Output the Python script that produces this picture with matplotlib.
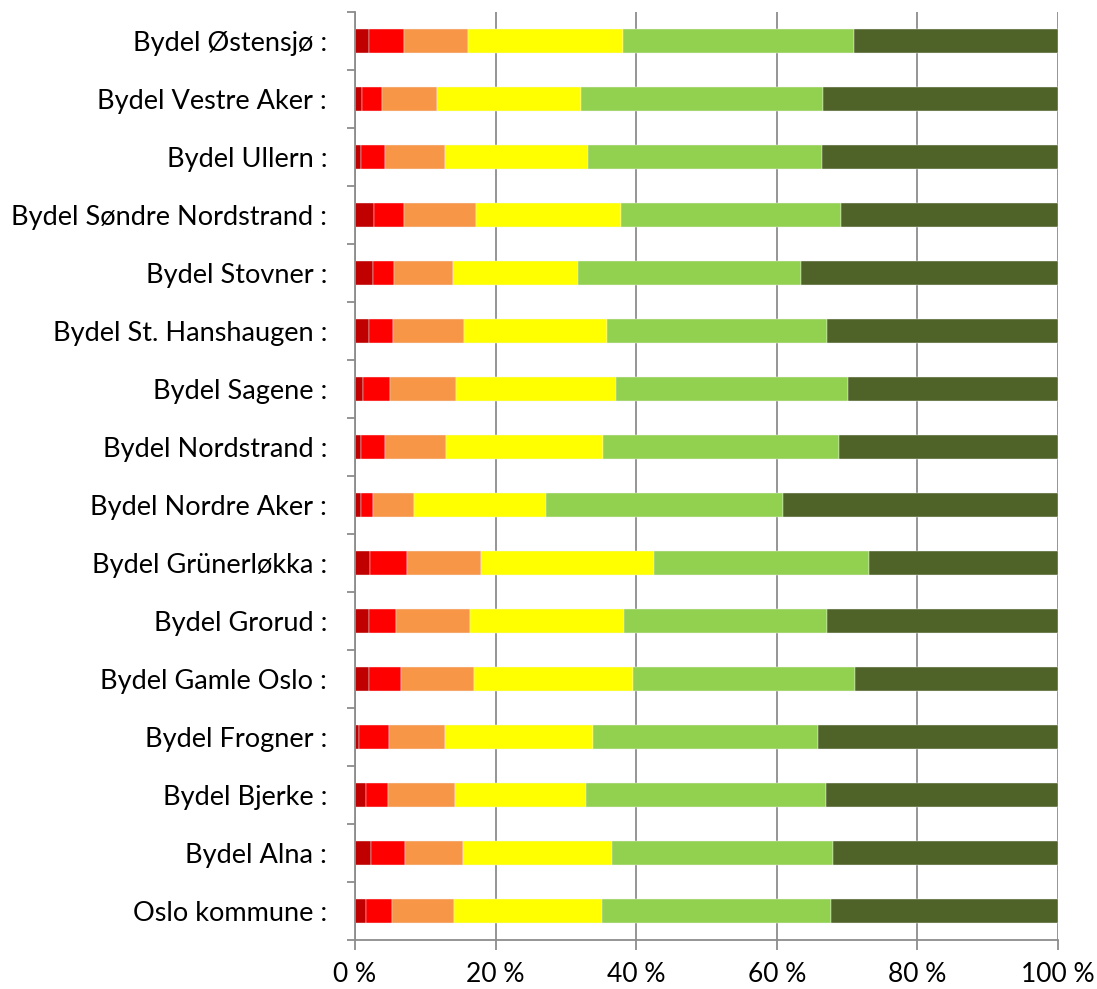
import numpy
from matplotlib import pyplot
from matplotlib.ticker import FixedLocator, FuncFormatter

pyplot.rcParams['font.family'] = ['Lato', 'DejaVu Sans']

# bottom to top, as drawn
bydeler = ["Oslo kommune :", "Bydel Alna :", "Bydel Bjerke :", "Bydel Frogner :",
           "Bydel Gamle Oslo :", "Bydel Grorud :", "Bydel Grünerløkka :",
           "Bydel Nordre Aker :", "Bydel Nordstrand :", "Bydel Sagene :",
           "Bydel St. Hanshaugen :", "Bydel Stovner :", "Bydel Søndre Nordstrand :",
           "Bydel Ullern :", "Bydel Vestre Aker :", "Bydel Østensjø :"]

# share in percent for each of the six groups
del1 = [1.6, 2.3, 1.6, 0.6, 2.0, 2.0, 2.2, 0.9, 0.9, 1.2, 2.0, 2.6, 2.7, 0.9, 1.0, 2.0]
del2 = [3.7, 4.8, 3.1, 4.2, 4.5, 3.9, 5.2, 1.6, 3.3, 3.8, 3.4, 2.9, 4.3, 3.4, 2.9, 4.9]
del3 = [8.8, 8.3, 9.5, 8.0, 10.4, 10.5, 10.5, 5.9, 8.8, 9.4, 10.1, 8.4, 10.2, 8.5, 7.7, 9.2]
del4 = [21.1, 21.1, 18.7, 21.0, 22.6, 21.8, 24.7, 18.8, 22.3, 22.7, 20.4, 17.8, 20.7, 20.4, 20.5, 22.0]
del5 = [32.5, 31.5, 34.1, 32.0, 31.6, 28.9, 30.5, 33.7, 33.5, 33.0, 31.3, 31.7, 31.2, 33.3, 34.5, 32.9]
del6 = [32.3, 32.0, 33.0, 34.2, 28.9, 32.9, 26.9, 39.1, 31.2, 29.9, 32.8, 36.6, 30.9, 33.5, 33.4, 29.0]

farger = ["#C00000", "#FF0000", "#F79646", "#FFFF00", "#92D050", "#4F6228"]

fig = pyplot.figure(figsize=(10.97, 9.89), dpi=100)
ax = fig.add_axes([355/1097, 1 - 940/989, 703/1097, 928/989])

serier = numpy.array([del1, del2, del3, del4, del5, del6])
andel = serier / serier.sum(axis=0) * 100.0
ypos = numpy.arange(len(bydeler))
venstre = numpy.zeros(len(bydeler))
for i in range(len(farger)):
    ax.barh(ypos, andel[i], left=venstre, height=0.4, color=farger[i],
            edgecolor="#f4f4f4", linewidth=0.3, zorder=3)
    venstre = venstre + andel[i]

ax.set_xlim(0, 100)
ax.set_ylim(-0.5, len(bydeler) - 0.5)

ax.xaxis.set_major_locator(FixedLocator([0, 20, 40, 60, 80, 100]))
ax.xaxis.set_major_formatter(FuncFormatter(lambda v, p: "%d %%" % v))
ax.grid(axis="x", color="#8c8c8c", linewidth=1.3, zorder=0)

ax.set_yticks(ypos)
ax.set_yticklabels(bydeler)
ax.yaxis.set_minor_locator(FixedLocator(numpy.arange(-0.5, len(bydeler), 1.0)))

ax.tick_params(axis="y", which="major", length=0, pad=20, labelsize=19.5)
ax.tick_params(axis="y", which="minor", length=6, width=1.3, color="#8c8c8c")
ax.tick_params(axis="x", which="major", length=7, width=1.3, color="#8c8c8c",
               pad=9, labelsize=19)

for side in ["top", "right"]:
    ax.spines[side].set_visible(False)
for side in ["left", "bottom"]:
    ax.spines[side].set_color("#8c8c8c")
    ax.spines[side].set_linewidth(1.3)
    ax.spines[side].set_zorder(4)

fig.savefig("out.png", dpi=100)
